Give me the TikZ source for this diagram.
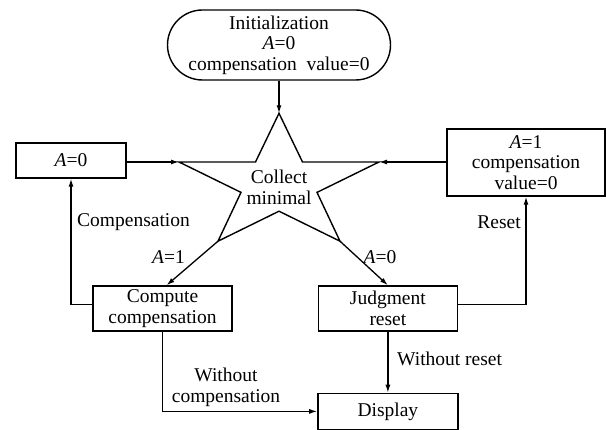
\documentclass[tikz,border=0pt]{standalone}
\usepackage{fontspec}
\setmainfont{Liberation Serif}
\usetikzlibrary{positioning,arrows.meta}

\begin{document}
\begin{tikzpicture}[x=1pt, y=1pt,
    box/.style={draw, line width=1.4pt, align=center, inner sep=0pt, font=\fontsize{19.5}{20.5}\selectfont},
    lbl/.style={inner sep=0pt, align=center, font=\fontsize{19.5}{20.5}\selectfont},
    line/.style={line width=1.4pt},
    arr/.style={line width=1.3pt, -{Latex[length=8pt,width=5pt]}}]
  \useasboundingbox (0,0) rectangle (607,430);

  \node[box, rounded corners=35pt, minimum width=223pt, minimum height=70pt] (init) at (279,385) {Initialization\\\textit{A}=0\\compensation\ \ value=0};
  \node[box, minimum width=110pt, minimum height=35pt] (a0) at (71,269.5) {\textit{A}=0};
  \node[box, minimum width=158pt, minimum height=67pt] (a1) at (526,267.5) {\textit{A}=1\\compensation\\value=0};
  \node[box, minimum width=139pt, minimum height=45pt] (comp) at (162.5,121.5) {Compute\\compensation};
  \node[box, minimum width=139pt, minimum height=45pt, right=85pt of comp] (jr) {Judgment\\reset};
  \node[box, minimum width=140pt, minimum height=36pt, below=61pt of jr] (disp) {Display};

  \draw[line] (279,316.7) coordinate (top) -- (302.5,268) -- (379,268) coordinate (rt) -- (317,237.6) -- (340,188.8) coordinate (br) -- (279,218.8) -- (218,188.8) coordinate (bl) -- (241,237.6) -- (179,268) coordinate (lt) -- (255.5,268) -- cycle;
  \node[lbl] (star) at (279,242.5) {Collect\\minimal};

  \node[lbl] (l1) at (168.5,173) {\textit{A}=1};
  \node[lbl] (l0) at (380,173) {\textit{A}=0};
  \node[lbl, anchor=west] (lc) at (77,208) {Compensation};
  \node[lbl, anchor=east] (lr) at (521,208) {Reset};
  \node[lbl] (lw) at (226,42.5) {Without\\compensation};
  \node[lbl, anchor=west] (lwr) at (397,71) {Without reset};

  \draw[arr] (init.south) -- (top);
  \draw[arr] (a0.east |- lt) -- (lt);
  \draw[arr] (a1.west |- rt) -- (rt);
  \draw[arr] (bl) -- (comp.80);
  \draw[arr] (br) -- (jr.north);
  \draw[arr] ([yshift=4pt]comp.west) -| (a0.south);
  \draw[arr] ([yshift=4pt]jr.east) -| (a1.south);
  \draw[arr] (comp.south) |- (disp.west);
  \draw[arr] (jr.south) -- (jr.south |- disp.north);
\end{tikzpicture}
\end{document}
